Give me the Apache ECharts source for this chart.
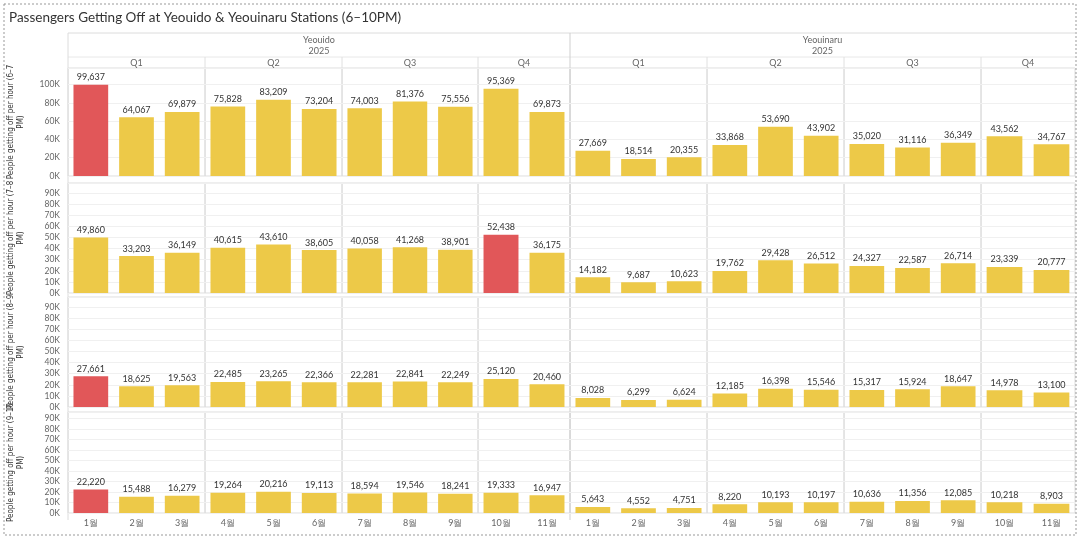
<!DOCTYPE html>
<html><head><meta charset="utf-8">
<script src="https://cdn.jsdelivr.net/npm/echarts@6/dist/echarts.min.js"></script>
<style>html,body{margin:0;padding:0;background:#fff}#c{width:1080px;height:539px}</style>
</head><body><div id="c"></div>
<script>
const stations = ['Yeouido', 'Yeouinaru'];
const quarters = ['Q1', 'Q2', 'Q3', 'Q4'];
const monthsByQuarter = [['1월','2월','3월'],['4월','5월','6월'],['7월','8월','9월'],['10월','11월']];
const hourRows = ['6–7', '7–8', '8–9', '9–10'];
const yeouido_6_7 = [99637,64067,69879,75828,83209,73204,74003,81376,75556,95369,69873];
const yeouinaru_6_7 = [27669,18514,20355,33868,53690,43902,35020,31116,36349,43562,34767];
const yeouido_7_8 = [49860,33203,36149,40615,43610,38605,40058,41268,38901,52438,36175];
const yeouinaru_7_8 = [14182,9687,10623,19762,29428,26512,24327,22587,26714,23339,20777];
const yeouido_8_9 = [27661,18625,19563,22485,23265,22366,22281,22841,22249,25120,20460];
const yeouinaru_8_9 = [8028,6299,6624,12185,16398,15546,15317,15924,18647,14978,13100];
const yeouido_9_10 = [22220,15488,16279,19264,20216,19113,18594,19546,18241,19333,16947];
const yeouinaru_9_10 = [5643,4552,4751,8220,10193,10197,10636,11356,12085,10218,8903];
const data = [[yeouido_6_7, yeouinaru_6_7],[yeouido_7_8, yeouinaru_7_8],[yeouido_8_9, yeouinaru_8_9],[yeouido_9_10, yeouinaru_9_10]];

const YELLOW = '#EDC948', RED = '#E15759';
const colLeft = [[68,205,342,478],[570,707,844,981]];
const colW = [[137,137,136,92],[137,137,137,94]];
const rowTop = [68,183,297,412];
const rowH = [108,110,110,101];
const rowMax = [118000,99000,99000,96000];
const rowInt = [20000,10000,10000,10000];
const FONT = 'Lato, "Noto Sans", sans-serif';

const grids=[], xAxes=[], yAxes=[], series=[];
let gi=0;
for (let r=0;r<4;r++){
  const redVal = r===1 ? data[1][0][9] : data[r][0][0];
  for (let s=0;s<2;s++){
    let off=0;
    for (let q=0;q<4;q++){
      const months = monthsByQuarter[q];
      const v = data[r][s].slice(off, off+months.length); off+=months.length;
      grids.push({left:colLeft[s][q], top:rowTop[r], width:colW[s][q], height:rowH[r], show:true, borderColor:'#dcdcdc', borderWidth:1, containLabel:false});
      xAxes.push({type:'category', gridIndex:gi, data:months, axisTick:{show:false}, axisLine:{show:false},
        axisLabel:{show:r===3, color:'#666', fontSize:9, fontFamily:FONT, margin:6}});
      const first = s===0&&q===0;
      yAxes.push({type:'value', gridIndex:gi, min:0, max:rowMax[r], interval:rowInt[r],
        axisLabel:{show:first, showMaxLabel:false, color:'#666', fontSize:8.5, fontFamily:FONT, formatter:x=>(x/1000)+'K'},
        axisLine:{show:false}, axisTick:{show:false},
        splitLine:{lineStyle:{color:'#f0f0f0'}},
        name: first ? 'People getting off per hour ('+hourRows[r]+'\nPM)' : '',
        nameLocation:'middle', nameRotate:90, nameGap:42,
        nameTextStyle:{color:'#333', fontSize:8, fontFamily:'"DejaVu Sans Condensed", "Liberation Sans Narrow", sans-serif', lineHeight:10}});
      series.push({type:'bar', xAxisIndex:gi, yAxisIndex:gi, barWidth:'76%', data:v.map(x=>({value:x, itemStyle:{color:(s===0&&x===redVal)?RED:YELLOW}})),
        label:{show:true, position:'top', color:'#333', fontSize:9, fontFamily:FONT, distance:3, formatter:p=>p.value.toLocaleString('en-US')}, silent:true});
      gi++;
    }
  }
}
const graphic=[
  {type:'rect', shape:{x:4,y:4,width:1072,height:531}, style:{fill:'none', stroke:'#999', lineDash:[2,2], lineWidth:1}},
  {type:'text', left:9, top:11, style:{text:'Passengers Getting Off at Yeouido & Yeouinaru Stations (6–10PM)', fontSize:13.5, fill:'#333', fontFamily:FONT}},
  {type:'line', shape:{x1:68,y1:33,x2:1075,y2:33}, style:{stroke:'#dcdcdc'}},
  {type:'line', shape:{x1:68,y1:57,x2:1075,y2:57}, style:{stroke:'#e8e8e8'}},
  {type:'line', shape:{x1:570,y1:33,x2:570,y2:520}, style:{stroke:'#cfcfcf'}},
  {type:'line', shape:{x1:68,y1:33,x2:68,y2:520}, style:{stroke:'#dcdcdc'}},
];
for (let s=0;s<2;s++){
  const x0=colLeft[s][0], x1=colLeft[s][3]+colW[s][3];
  const cx=(x0+x1)/2;
  graphic.push({type:'text', x:cx, y:40, style:{text:stations[s], align:'center', verticalAlign:'middle', fontSize:9, fill:'#666', fontFamily:FONT}});
  graphic.push({type:'text', x:cx, y:51, style:{text:'2025', align:'center', verticalAlign:'middle', fontSize:9, fill:'#666', fontFamily:FONT}});
  for (let q=0;q<4;q++){
    graphic.push({type:'text', x:colLeft[s][q]+colW[s][q]/2, y:63, style:{text:quarters[q], align:'center', verticalAlign:'middle', fontSize:9, fill:'#666', fontFamily:FONT}});
    if(q>0) graphic.push({type:'line', shape:{x1:colLeft[s][q],y1:57,x2:colLeft[s][q],y2:68}, style:{stroke:'#e0e0e0'}});
  }
}
const chart = echarts.init(document.getElementById('c'));
chart.setOption({animation:false, grid:grids, xAxis:xAxes, yAxis:yAxes, series, graphic});
</script></body></html>
